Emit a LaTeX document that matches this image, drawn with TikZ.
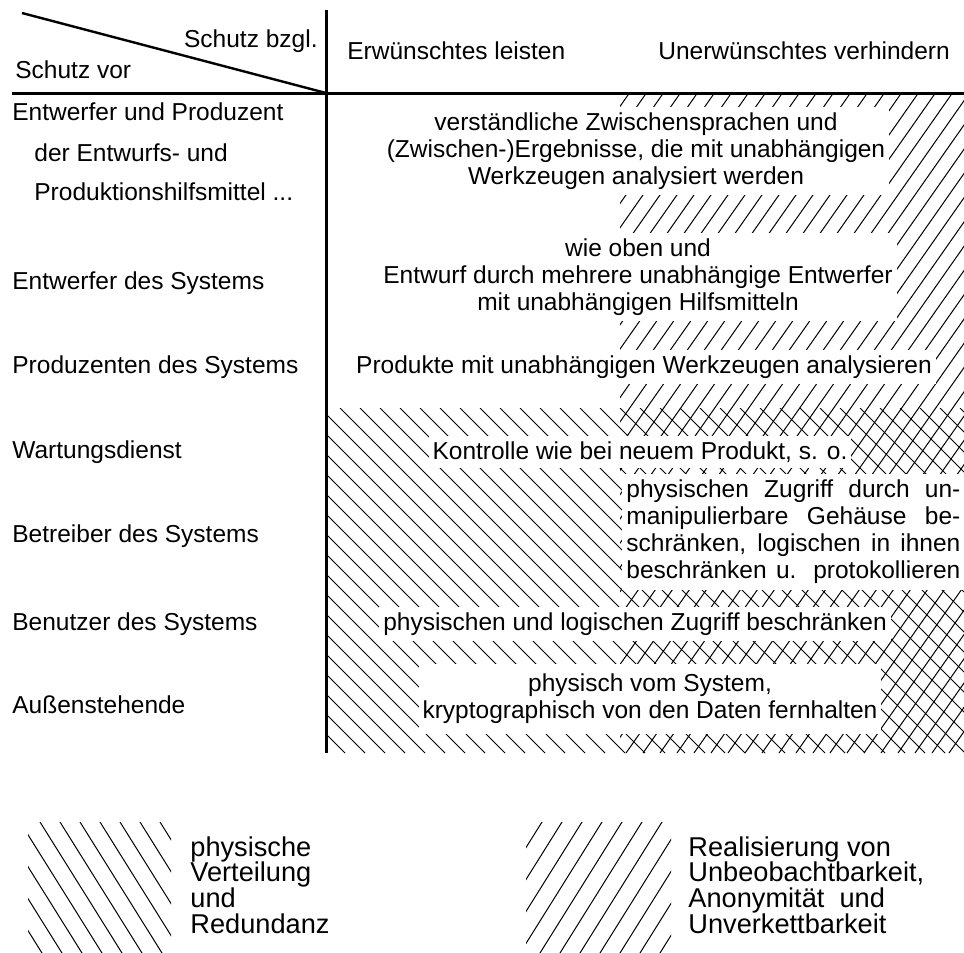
\documentclass[tikz,border=0pt]{standalone}
\usepackage{fontspec}
\setmainfont{Liberation Sans}
\usepackage{tikz}
\usetikzlibrary{positioning}

\newcommand{\jline}[1]{\makebox[167pt][s]{#1}}

\begin{document}
\begin{tikzpicture}[
    x=0.5pt, y=-0.5pt,
    font=\fontsize{12.25}{13.5}\selectfont,
    rule/.style={line width=1.5pt},
    hatch/.style={line width=0.5pt},
    rowlabel/.style={anchor=west, inner sep=0pt},
    cell/.style={fill=white, inner xsep=2pt, inner ysep=3pt, align=center},
    legendtext/.style={anchor=north west, inner sep=0pt, align=left, font=\fontsize{13.6}{12.9}\selectfont},
  ]
  \useasboundingbox (0,0) rectangle (964,953);

  % ===== hatching: unobservability (/) and distribution (\) =====
  \begin{scope}
    \clip (620,95) rectangle (964,753);
    \foreach \x in {150,167,...,980}
      \draw[hatch] (\x,753) -- ++(461,-658);
  \end{scope}
  \begin{scope}
    \clip (328,408) rectangle (964,753);
    \foreach \x in {-20,0,...,970}
      \draw[hatch] (\x,408) -- ++(345,345);
  \end{scope}

  % ===== table frame =====
  \coordinate (corner) at (326,93);
  \draw[rule] (12,93) -- (964,93);
  \draw[rule] (326,10) -- (326,753);
  \draw[line width=1.2pt] (22,13) -- (corner);

  % ===== header =====
  \node[anchor=east, inner sep=0pt] (bzgl) at (318,41) {Schutz bzgl.};
  \node[rowlabel] (vor) at (15,70) {Schutz vor};
  \node[rowlabel] (leisten) at (347,51) {Erwünschtes leisten};
  \node[rowlabel] (verhindern) at (658,51) {Unerwünschtes verhindern};

  % ===== row labels =====
  \node[rowlabel] (produzent) at (12,112) {Entwerfer und Produzent};
  \node[rowlabel] (entwurfs) at (34,153) {der Entwurfs- und};
  \node[rowlabel] (hilfsmittel) at (34,192) {Produktionshilfsmittel ...};
  \node[rowlabel] (entwerfer) at (12,283) {Entwerfer des Systems};
  \node[rowlabel] (produzenten) at (12,367) {Produzenten des Systems};
  \node[rowlabel] (wartung) at (12,452) {Wartungsdienst};
  \node[rowlabel] (betreiber) at (12,536) {Betreiber des Systems};
  \node[rowlabel] (benutzer) at (12,624) {Benutzer des Systems};
  \node[rowlabel] (aussen) at (12,705) {Außenstehende};

  % ===== cells =====
  \node[cell] (zwischen) at (636,151) {verständliche Zwischensprachen und\\(Zwischen-)Ergebnisse, die mit unabhängigen\\Werkzeugen analysiert werden};
  \node[cell] (mehrere) at (638,277) {wie oben und\\Entwurf durch mehrere unabhängige Entwerfer\\mit unabhängigen Hilfsmitteln};
  \node[cell] (produkte) at (644,367) {Produkte mit unabhängigen Werkzeugen analysieren};
  \node[cell] (kontrolle) at (640,452) {Kontrolle wie bei neuem Produkt, s. o.};
  \node[cell, anchor=west, align=left] (gehaeuse) at (622,532) {\jline{physischen Zugriff durch un-}\\\jline{manipulierbare Gehäuse be-}\\\jline{schränken, logischen in ihnen}\\\jline{beschränken u. protokollieren}};
  \node[cell] (zugriff) at (635,624) {physischen und logischen Zugriff beschränken};
  \node[cell, inner ysep=5pt] (fernhalten) at (650,699) {physisch vom System,\\kryptographisch von den Daten fernhalten};

  % ===== legend =====
  \begin{scope}
    \clip (28,822) rectangle (171,953);
    \foreach \x in {-60,-40,...,180}
      \draw[hatch] (\x,822) -- ++(82,131);
  \end{scope}
  \node[legendtext] (verteilung) at (190,836) {physische\\Verteilung\\und\\Redundanz};
  \begin{scope}
    \clip (526,822) rectangle (671,953);
    \foreach \x in {440,460,...,680}
      \draw[hatch] (\x,953) -- ++(82,-131);
  \end{scope}
  \node[legendtext] (unbeob) at (688,836) {Realisierung von\\Unbeobachtbarkeit,\\Anonymität~ und\\Unverkettbarkeit};
\end{tikzpicture}
\end{document}
